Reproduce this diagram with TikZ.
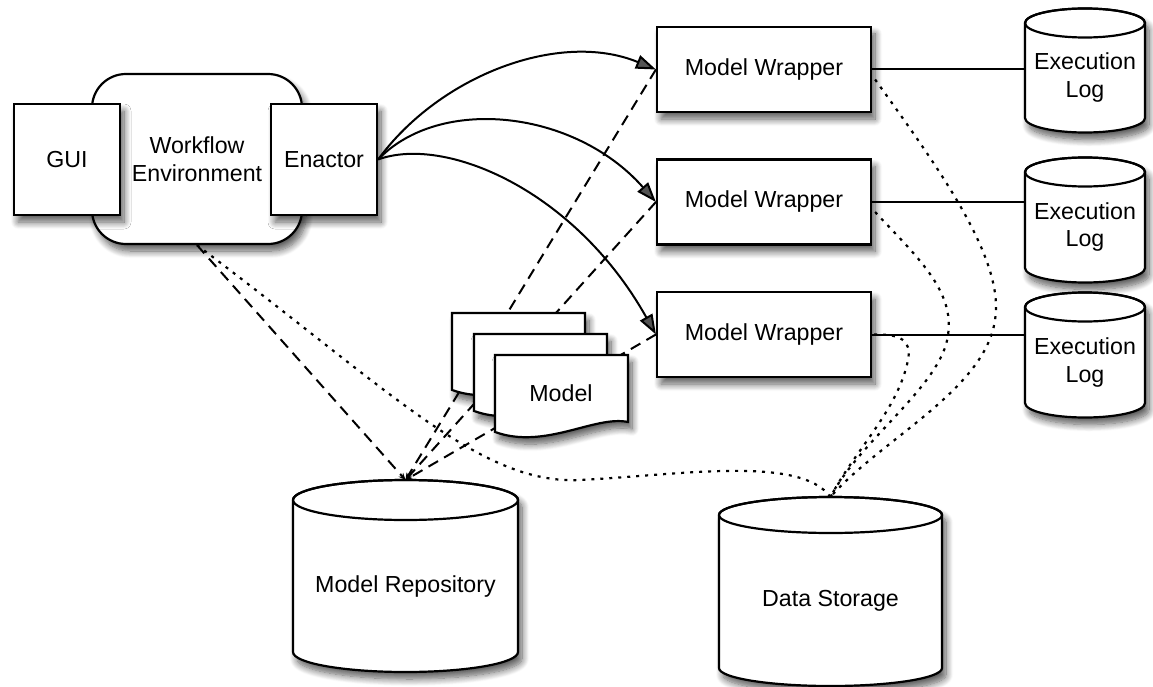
\documentclass[tikz,border=0pt]{standalone}
\usepackage{fontspec}
\setmainfont{Liberation Sans}
\usetikzlibrary{arrows.meta,shadows.blur,calc}
\pgfdeclarelayer{background}
\pgfsetlayers{background,main}

\tikzset{
  softshadow/.style={blur shadow={shadow xshift=4pt, shadow yshift=-7pt,
      shadow blur radius=7pt, shadow blur steps=10, shadow opacity=65}},
  outline/.style={draw=black, line width=2.2pt, fill=white},
  box/.style={outline, softshadow, rectangle, inner sep=0pt},
  txt/.style={font=\fontsize{23.2}{27.5}\selectfont, align=center, inner sep=0pt},
  flow/.style={line width=2pt, -{Triangle[length=20pt,width=14pt]}},
  link/.style={line width=2pt},
  fetch/.style={line width=2pt, dash pattern=on 11pt off 7pt,
      -{Stealth[length=7pt,width=6pt]}},
  store/.style={line width=2.2pt, dash pattern=on 3pt off 6pt},
}

% cylinder: name, centre x, top-ellipse y, bottom-ellipse y, x radius, y radius, text
\newcommand\drum[7]{%
  \path[outline, softshadow] (#2-#5,#3) -- (#2-#5,#4)
     arc[start angle=180, end angle=0, x radius=#5, y radius=#6]
     -- (#2+#5,#3)
     arc[start angle=0, end angle=-180, x radius=#5, y radius=#6] -- cycle;
  \draw[line width=2.2pt] (#2,#3) ellipse[x radius=#5, y radius=#6];
  \node[txt] (#1) at (#2,{(#3+#4)/2+#6/2}) {#7};
  \coordinate (#1-top) at (#2,#3-#6);
  \coordinate (#1-w) at (#2-#5,#3);
}

% document sheet with a wavy lower edge: left x, top y
\newcommand\sheet[2]{%
  \path[outline, softshadow] (#1,#2) -- (#1+133,#2) -- (#1+133,#2+67)
     .. controls (#1+100,#2+60) and (#1+50,#2+95) .. (#1,#2+77) -- cycle;
}

\begin{document}
\begin{tikzpicture}[x=1pt, y=-1pt]
\useasboundingbox (0,0) rectangle (1153,687);

% workflow environment with its two parts
\node[box, rounded corners=34pt, minimum width=210pt, minimum height=170pt, txt]
  (we) at (197,159) {Workflow\\Environment};
\node[box, minimum width=106pt, minimum height=111pt, txt] (gui) at (67,159.5) {GUI};
\node[box, minimum width=106pt, minimum height=111pt, txt] (enactor) at (324,159.5) {Enactor};

% model wrappers
\node[box, minimum width=214pt, minimum height=85pt, txt] (mw1) at (764,69.5) {Model Wrapper};
\node[box, minimum width=214pt, minimum height=85pt, txt] (mw2) at (764,202) {Model Wrapper};
\node[box, minimum width=214pt, minimum height=85pt, txt] (mw3) at (764,334.5) {Model Wrapper};

% execution logs
\drum{log1}{1085}{23}{118}{60}{14.5}{Execution\\Log}
\drum{log2}{1085}{172}{268}{60}{14.5}{Execution\\Log}
\drum{log3}{1085}{307}{403}{60}{14.5}{Execution\\Log}

% stores
\drum{repo}{405.5}{500}{652}{112.5}{20}{Model Repository}
\drum{data}{830.5}{515}{668}{111.5}{18}{Data Storage}

% stack of model documents
\sheet{452}{313}
\sheet{474}{334}
\sheet{495}{355}
\node[txt] (model) at (561,393) {Model};

\begin{pgfonlayer}{background}
  % enactor invokes the wrappers
  \draw[flow] (enactor.east) .. controls (440,75) and (560,30) .. (mw1.west);
  \draw[flow] (enactor.east) .. controls (440,95) and (575,110) .. (mw2.west);
  \draw[flow] (enactor.east) .. controls (445,135) and (575,190) .. (mw3.west);

  % wrappers write their logs
  \draw[link] (mw1.east) -- (mw1.east -| log1-w);
  \draw[link] (mw2.east) -- (mw2.east -| log2-w);
  \draw[link] (mw3.east) -- (mw3.east -| log3-w);

  % models fetched from the repository
  \draw[fetch] (we.south) -- (repo-top);
  \draw[fetch] (mw1.west) -- (repo-top);
  \draw[fetch] (mw2.west) -- (repo-top);
  \draw[fetch] (mw3.west) -- (repo-top);

  % data exchanged with the storage
  \draw[store] (we.south) .. controls (390,390) and (480,485) .. (580,480)
                          .. controls (680,475) and (800,455) .. (data-top);
  \draw[store] ($(mw1.east)+(3,10)$) .. controls (940,170) and (1005,260) .. (995,320)
                          .. controls (985,390) and (880,440) .. (data-top);
  \draw[store] ($(mw2.east)+(3,10)$) .. controls (915,255) and (955,290) .. (948,335)
                          .. controls (942,385) and (860,440) .. (data-top);
  \draw[store] ($(mw3.east)+(2,0)$) .. controls (900,334) and (912,340) .. (908,360)
                          .. controls (898,410) and (855,450) .. (data-top);
\end{pgfonlayer}
\end{tikzpicture}
\end{document}
